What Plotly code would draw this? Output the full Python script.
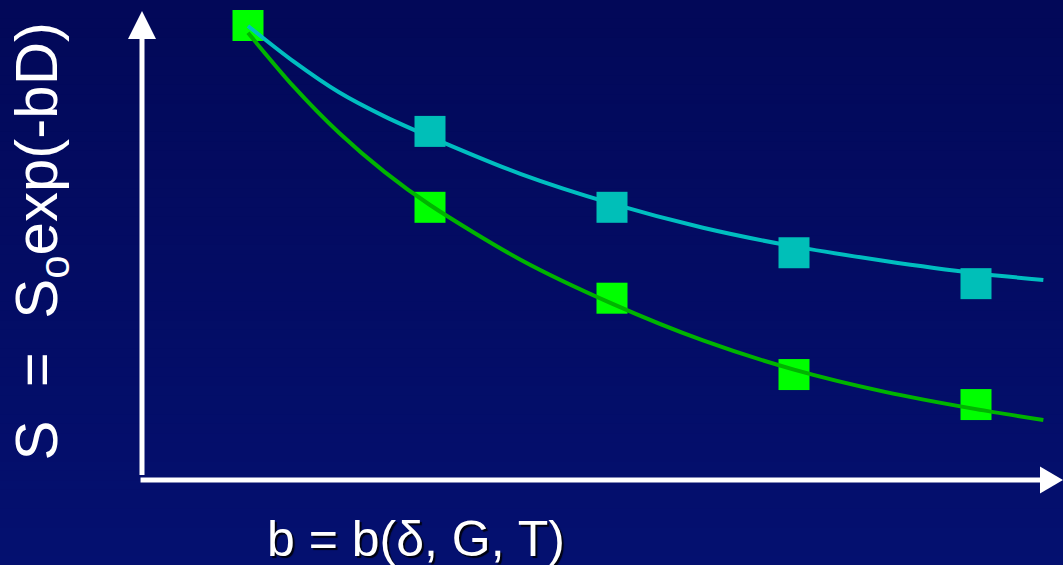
import plotly.graph_objects as go

# Measured signal at five diffusion-weighting steps
b_meas = [0, 1, 2, 3, 4]
sig_fast = [1.0, 0.60, 0.40, 0.232, 0.166]   # faster-decaying component
b_slow = [1, 2, 3, 4]
sig_slow = [0.767, 0.60, 0.50, 0.432]        # slower-decaying component (shares S0 = 1)

# Fitted decay curves, sampled along b
b_fit = [0, 0.25, 0.5, 0.75, 1, 1.5, 2, 2.5, 3, 3.5, 4, 4.37]
fit_fast = [0.984, 0.866, 0.764, 0.678, 0.605, 0.484, 0.388, 0.307, 0.243, 0.194, 0.156, 0.132]
fit_slow = [0.999, 0.921, 0.853, 0.800, 0.755, 0.673, 0.608, 0.555, 0.514, 0.482, 0.455, 0.440]

x_label = "b = b(δ, G, T)"
y_label = "S\u00a0\u00a0=\u00a0\u00a0S<sub>o</sub>exp(-bD)"

W, H = 1063, 565
X_RANGE = [-1.3626, 4.4780]
Y_RANGE = [-0.1870, 1.0561]

GREEN = "#00FF00"
GREEN_LINE = "#00B400"
CYAN = "#00BFB8"
CYAN_LINE = "#00BEC0"
FONT = "Arial, 'Liberation Sans', sans-serif"

fig = go.Figure()

fig.add_trace(go.Scatter(
    x=b_meas, y=sig_fast, mode="markers",
    marker=dict(symbol="square", size=31, color=GREEN, line=dict(width=0)),
))
fig.add_trace(go.Scatter(
    x=b_fit, y=fit_slow, mode="lines",
    line=dict(color=CYAN_LINE, width=4, shape="spline", smoothing=0.8),
))
fig.add_trace(go.Scatter(
    x=b_fit, y=fit_fast, mode="lines",
    line=dict(color=GREEN_LINE, width=4, shape="spline", smoothing=0.8),
))
fig.add_trace(go.Scatter(
    x=b_slow, y=sig_slow, mode="markers",
    marker=dict(symbol="square", size=31, color=CYAN, line=dict(width=0)),
))

# Background: soft vertical gradient in navy
shapes = []
top_rgb = (2, 8, 88)
bot_rgb = (4, 16, 112)
n_bands = 60
for i in range(n_bands):
    t = (i + 0.5) / n_bands
    c = tuple(round(top_rgb[k] + (bot_rgb[k] - top_rgb[k]) * t) for k in range(3))
    shapes.append(dict(
        type="rect", xref="paper", yref="paper", layer="below",
        x0=0, x1=1, y0=1 - (i + 1) / n_bands - 0.002, y1=1 - i / n_bands,
        fillcolor="rgb(%d,%d,%d)" % c, line=dict(width=0),
    ))

# Axis arrows
AX_X = -0.5824     # position of the vertical axis in b units
AX_Y = 0.0         # position of the horizontal axis in signal units
WHITE = "#FFFFFF"
shapes.append(dict(type="line", x0=AX_X, x1=AX_X, y0=0.011, y1=0.975,
                   line=dict(color=WHITE, width=5), layer="above"))
shapes.append(dict(type="path",
                   path="M %f,%f L %f,%f L %f,%f Z" % (AX_X - 0.0769, 0.9703, AX_X, 1.0319,
                                                        AX_X + 0.0769, 0.9703),
                   fillcolor=WHITE, line=dict(width=0), layer="above"))
shapes.append(dict(type="line", x0=AX_X - 0.008, x1=4.36, y0=AX_Y, y1=AX_Y,
                   line=dict(color=WHITE, width=5), layer="above"))
shapes.append(dict(type="path",
                   path="M %f,%f L %f,%f L %f,%f Z" % (4.3516, AX_Y + 0.0297, 4.4780, AX_Y,
                                                        4.3516, AX_Y - 0.0297),
                   fillcolor=WHITE, line=dict(width=0), layer="above"))

annotations = [
    dict(text=x_label, xref="paper", yref="paper", x=415.5 / W, y=1 - 538.5 / H,
         xanchor="center", yanchor="middle", showarrow=False,
         font=dict(family=FONT, size=50, color=WHITE,
                   shadow="2px 2px 1px rgba(0,0,0,0.85)")),
    dict(text=y_label, xref="paper", yref="paper", x=41 / W, y=1 - 241.5 / H,
         xanchor="center", yanchor="middle", showarrow=False, textangle=-90,
         font=dict(family=FONT, size=60, color=WHITE)),
]

fig.update_layout(
    width=W, height=H,
    margin=dict(l=0, r=0, t=0, b=0),
    paper_bgcolor="rgb(3,11,98)",
    plot_bgcolor="rgba(0,0,0,0)",
    showlegend=False,
    xaxis=dict(range=X_RANGE, visible=False, fixedrange=True),
    yaxis=dict(range=Y_RANGE, visible=False, fixedrange=True),
    shapes=shapes,
    annotations=annotations,
)

fig.write_html("out.html")
